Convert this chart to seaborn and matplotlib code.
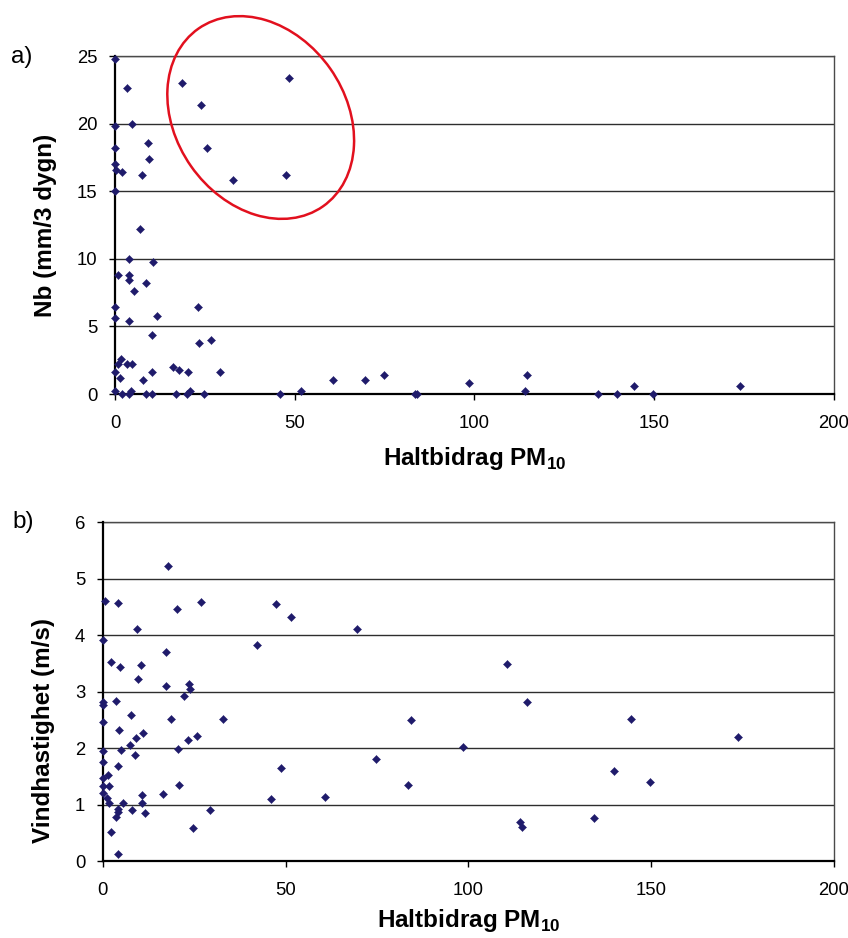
import numpy as np
import pandas as pd
import seaborn as sns
import matplotlib
matplotlib.use("Agg")
import matplotlib.pyplot as plt
from matplotlib.patches import Ellipse

# Panel a) : PM10 contribution vs. precipitation
pm10_a = [0, 3.3, 18.5, 23.8, 0, 4.6, 9.1, 25.5, 0, 9.4, 0, 0.3, 1.9, 7.6, 32.7, 0,
          48.4, 47.5,
          7.0, 3.8, 10.7, 0.9, 3.9, 3.9, 8.7, 5.3, 0, 23.0, 0, 4.0, 11.6, 10.2,
          23.4, 26.6, 1.6, 0.9, 3.3, 4.8, 0, 1.4, 7.7, 10.4, 16.2, 17.7, 20.4, 29.1,
          0, 1.9, 3.9, 4.4, 8.7, 10.4, 17.1, 20.0, 20.8, 24.7,
          46.0, 51.6, 60.6, 69.5, 74.7, 83.5, 84.1, 98.5, 114.6, 114.1,
          134.3, 139.7, 144.5, 149.7, 173.8]
nb_a = [24.8, 22.6, 23.0, 21.4, 19.8, 20.0, 18.6, 18.2, 18.2, 17.4, 17.0, 16.6, 16.4, 16.2, 15.8, 15.0,
        23.4, 16.2,
        12.2, 10.0, 9.8, 8.8, 8.8, 8.4, 8.2, 7.6, 6.4, 6.4, 5.6, 5.4, 5.8, 4.4,
        3.8, 4.0, 2.6, 2.2, 2.2, 2.2, 1.6, 1.2, 1.0, 1.6, 2.0, 1.8, 1.6, 1.6,
        0.2, 0, 0, 0.2, 0, 0, 0, 0, 0.2, 0,
        0, 0.2, 1.0, 1.0, 1.4, 0, 0, 0.8, 1.4, 0.2,
        0, 0, 0.6, 0, 0.6]

# Panel b) : PM10 contribution vs. wind speed
pm10_b = [17.9, 0.5, 4.2, 20.4, 26.8, 9.4, 0, 17.4, 2.2, 4.8, 10.5, 9.6, 17.2, 23.7, 24.0,
          22.2, 0, 0, 3.6, 7.8, 18.7, 33.0, 0, 4.5, 9.0, 10.9, 25.7, 23.2, 7.4, 20.6,
          0, 5.1, 8.9, 0, 4.2, 1.4, 0, 20.9, 16.4, 10.7, 0, 1.6, 0, 1.1, 1.8,
          5.6, 10.7, 4.3, 7.9, 4.1, 11.7, 29.3, 3.6, 24.8, 2.2, 4.2,
          51.6, 69.6, 42.3, 110.5, 116.1, 84.4, 98.5, 74.8, 48.7, 83.5, 60.7, 46.1,
          114.0, 114.6, 144.4, 173.8, 139.7, 149.7, 134.3, 47.3]
wind_b = [5.23, 4.61, 4.57, 4.46, 4.59, 4.10, 3.92, 3.70, 3.52, 3.43, 3.47, 3.23, 3.09, 3.14, 3.04,
          2.92, 2.82, 2.76, 2.84, 2.58, 2.51, 2.51, 2.46, 2.31, 2.18, 2.26, 2.22, 2.14, 2.05, 1.99,
          1.95, 1.96, 1.88, 1.75, 1.68, 1.52, 1.47, 1.35, 1.18, 1.17, 1.33, 1.32, 1.20, 1.12, 1.03,
          1.02, 1.03, 0.92, 0.91, 0.86, 0.85, 0.90, 0.77, 0.58, 0.51, 0.12,
          4.32, 4.10, 3.83, 3.48, 2.81, 2.50, 2.02, 1.81, 1.64, 1.35, 1.14, 1.09,
          0.69, 0.61, 2.51, 2.20, 1.60, 1.39, 0.76, 4.55]

x_ticks = [0, 50, 100, 150, 200]
y_ticks_a = [0, 5, 10, 15, 20, 25]
y_ticks_b = [0, 1, 2, 3, 4, 5, 6]

sns.set_theme(style="white")
plt.rcParams["font.family"] = ["Liberation Sans", "DejaVu Sans"]
plt.rcParams["mathtext.fontset"] = "custom"
plt.rcParams["mathtext.rm"] = "Liberation Sans"
plt.rcParams["mathtext.bf"] = "Liberation Sans:bold"
plt.rcParams["text.color"] = "black"
plt.rcParams["axes.labelcolor"] = "black"

W, H = 848, 938
fig = plt.figure(figsize=(W / 100, H / 100), dpi=100)
fig.patch.set_facecolor("white")

ax1 = fig.add_axes([115 / W, 1 - 394 / H, (834 - 115) / W, (394 - 56) / H])
ax2 = fig.add_axes([102.7 / W, 1 - 861 / H, (834 - 102.7) / W, (861 - 522) / H])

navy = "#1F1B6B"
df_a = pd.DataFrame({"pm10": pm10_a, "nb": nb_a})
df_b = pd.DataFrame({"pm10": pm10_b, "wind": wind_b})

sns.scatterplot(data=df_a, x="pm10", y="nb", ax=ax1, marker="D", s=17,
                color=navy, edgecolor=navy, linewidth=0.3, zorder=4, clip_on=False)
sns.scatterplot(data=df_b, x="pm10", y="wind", ax=ax2, marker="D", s=17,
                color=navy, edgecolor=navy, linewidth=0.3, zorder=4, clip_on=False)

label_font = dict(fontsize=17.5, fontweight="bold", color="black")
xlab = "Haltbidrag PM$_{\\mathbf{10}}$"

for ax, yt, ylab in [(ax1, y_ticks_a, "Nb (mm/3 dygn)"),
                     (ax2, y_ticks_b, "Vindhastighet (m/s)")]:
    ax.set_xlim(x_ticks[0], x_ticks[-1])
    ax.set_ylim(yt[0], yt[-1])
    ax.set_xticks(x_ticks)
    ax.set_yticks(yt)
    ax.set_facecolor("white")
    ax.yaxis.grid(True, color="#2e2e2e", linewidth=1.0)
    ax.xaxis.grid(False)
    ax.set_axisbelow(True)
    for side in ["top", "right"]:
        ax.spines[side].set_color("#4a4a4a")
        ax.spines[side].set_linewidth(1.0)
    for side in ["left", "bottom"]:
        ax.spines[side].set_color("black")
        ax.spines[side].set_linewidth(1.6)
        ax.spines[side].set_zorder(3)
    ax.tick_params(axis="x", direction="out", length=4, width=1.0, color="black",
                   pad=11, labelsize=13.3, labelcolor="black")
    ax.tick_params(axis="y", direction="out", length=4, width=1.0, color="black",
                   pad=8.5, labelsize=13.3, labelcolor="black")
    ax.tick_params(bottom=True, left=True)
    ax.set_xlabel(xlab, **label_font)
    ax.set_ylabel(ylab, **label_font)
    ax.xaxis.label.set_va("baseline")
    ax.yaxis.label.set_va("center")

ax1.xaxis.set_label_coords(0.5, (394 - 465) / 338)
ax1.yaxis.set_label_coords((45 - 115) / 719, 0.5)
ax2.xaxis.set_label_coords(0.5, (861 - 927) / 339)
ax2.yaxis.set_label_coords((44 - 102.7) / 731.3, (861 - 730) / 339)

fig.text(11 / W, 1 - 57 / H, "a)", fontsize=17.5, ha="left", va="center")
fig.text(12 / W, 1 - 522 / H, "b)", fontsize=17.5, ha="left", va="center")

# Red ring around the high-precipitation group in panel a)
ring = Ellipse((260.7 / 100, (H - 117.5) / 100), width=2.17, height=1.70, angle=-55,
               transform=fig.dpi_scale_trans, fill=False, edgecolor="#E2101E",
               linewidth=1.8, zorder=10, clip_on=False)
fig.add_artist(ring)

fig.savefig("out.png", dpi=100, facecolor="white")
